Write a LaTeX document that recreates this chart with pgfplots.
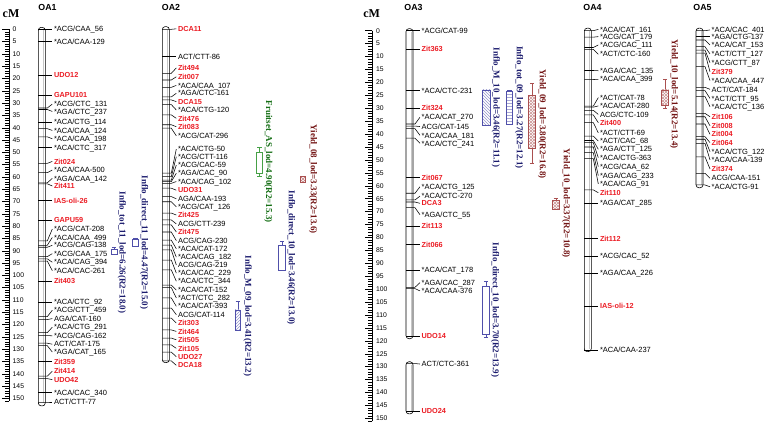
\documentclass[border=0pt]{standalone}
\usepackage{pgfplots}
\pgfplotsset{compat=1.18}
\usetikzlibrary{patterns}
\usepackage{fontspec}
\setmainfont{Liberation Sans}
\newfontfamily\serifb{Liberation Serif}
\definecolor{mred}{RGB}{235,28,36}
\definecolor{navyt}{RGB}{28,28,110}
\definecolor{navyb}{RGB}{80,80,170}
\definecolor{greent}{RGB}{20,110,20}
\definecolor{greenb}{RGB}{70,160,70}
\definecolor{redt}{RGB}{115,20,20}
\definecolor{redb}{RGB}{170,80,80}
\tikzset{
 labk/.style={anchor=west, inner sep=0pt, text height=5.3pt, text depth=0pt, font=\fontsize{7.5}{8}\selectfont, text=black},
 labr/.style={anchor=west, inner sep=0pt, text height=5.3pt, text depth=0pt, font=\fontsize{7.3}{8}\selectfont\bfseries, text=mred},
 qt/.style={rotate=-90, inner sep=0pt, text height=6.2pt, text depth=1.8pt, font=\fontsize{9}{10}\selectfont\serifb\bfseries},
 ttl/.style={inner sep=0pt, text height=6.2pt, text depth=0pt, font=\fontsize{8.8}{9}\selectfont\bfseries},
 cmt/.style={inner sep=0pt, text height=8pt, text depth=0pt, font=\fontsize{12}{12}\selectfont\serifb\bfseries},
 mkl/.style={black, line width=0.55pt},
 pNE/.style={postaction={pattern=north east lines, pattern color=#1}},
 pNW/.style={postaction={pattern=north west lines, pattern color=#1}},
 pHL/.style={postaction={pattern=horizontal lines, pattern color=#1}},
 pX/.style={postaction={pattern=north east lines, pattern color=#1}, postaction={pattern=north west lines, pattern color=#1}},
}
\pgfplotsset{
 panel/.style={scale only axis, width=384pt, height=428pt, y dir=reverse, hide axis, clip=false, no markers},
 scl/.style={scale only axis, width=9pt, height=428pt, xmin=0, xmax=9, y dir=reverse,
   axis x line=none, axis y line*=right, y axis line style={draw=none},
   ytick={0,5,...,150}, minor ytick={0,1,...,151}, tick align=inside,
   major tick length=7pt, minor tick length=4pt, tick style={black, line width=0.4pt},
   yticklabel style={font=\fontsize{6.8}{7}\selectfont, inner sep=0pt, xshift=3.5pt},
   /pgf/number format/assume math mode=true, clip=false, no markers},
}
% marker: pos, label y, colour (k/r), text ; uses \cL (chromosome left edge)
\newcommand\mk[4]{%
 \pgfmathsetmacro\xa{\cL+9}\pgfmathsetmacro\xb{\cL+14}\pgfmathsetmacro\xc{\cL+15.5}%
 \edef\tmp{\noexpand\addplot[mkl] coordinates {(\cL,#1) (\xa,#1) (\xb,#2)};%
  \noexpand\node[lab#3] at (axis cs:\xc,#2) {\unexpanded{#4}};}\tmp}
% chromosome: left, top, bottom
\newcommand\chrom[3]{%
 \pgfmathsetmacro\cR{#1+7}\pgfmathsetmacro\cG{#1+5.2}%
 \pgfmathsetmacro\cT{#2+1.2}\pgfmathsetmacro\cB{#3-1.2}%
 \edef\tmp{\noexpand\addplot[draw=black, fill=white, line width=0.6pt, rounded corners=3pt] coordinates {(#1,#2) (\cR,#2) (\cR,#3) (#1,#3)} --cycle;%
 \noexpand\addplot[gray!45, line width=0.7pt] coordinates {(\cG,\cT) (\cG,\cB)};}\tmp}
% QTL box: xl, xr, top, bottom, colour, pattern style
\newcommand\qbox[6]{\addplot[draw=#5, fill=white, line width=0.6pt, #6] coordinates {(#1,#3) (#2,#3) (#2,#4) (#1,#4)} --cycle;}
% whisker: xl, xr, end, attach, colour
\newcommand\qwh[5]{%
 \pgfmathsetmacro\qc{(#1+#2)/2}\pgfmathsetmacro\qa{\qc-2.2}\pgfmathsetmacro\qb{\qc+2.2}%
 \edef\tmp{\noexpand\addplot[draw=#5, line width=0.6pt] coordinates {(\qa,#3) (\qb,#3)};%
 \noexpand\addplot[draw=#5, line width=0.6pt] coordinates {(\qc,#3) (\qc,#4)};}\tmp}
\begin{document}
\begin{tikzpicture}
% ---------------- left scale
\begin{axis}[scl, at={(0pt,0pt)}, ymin=-11.91, ymax=162.07]
\addplot[black, line width=0.5pt] coordinates {(9,0) (9,151)};
\end{axis}
% ---------------- left panel
\begin{axis}[panel, at={(0pt,0pt)}, xmin=0, xmax=384, ymin=-11.91, ymax=162.07]
\node[cmt] at (axis cs:11,-6.5) {cM};
\node[ttl] at (axis cs:47.5,-9.07) {OA1};
\node[ttl] at (axis cs:171,-9.07) {OA2};
\chrom{38.3}{-0.8}{153.1}
\def\cL{38.3}
\mk{0}{0}{k}{*ACG/CAA\_56}
\mk{4.9}{4.9}{k}{*ACA/CAA-129}
\mk{18.7}{18.7}{r}{UDO12}
\mk{26.8}{26.8}{r}{GAPU101}
\mk{32.0}{30.4}{k}{*ACG/CTC\_131}
\mk{32.6}{33.4}{k}{*AGA/CTC\_237}
\mk{37.7}{37.7}{k}{*ACA/CTG\_114}
\mk{40.4}{41.1}{k}{*ACA/CAA\_124}
\mk{43.7}{44.5}{k}{*ACA/CAA\_198}
\mk{48.1}{48.1}{k}{*ACA/CTC\_317}
\mk{54.5}{53.7}{r}{Zit024}
\mk{58.3}{57.2}{k}{*ACA/CAA-500}
\mk{62.4}{60.6}{k}{*AGA/CAA\_142}
\mk{62.8}{63.7}{r}{Zit411}
\mk{69.7}{69.7}{r}{IAS-oli-26}
\mk{77.5}{77.5}{r}{GAPU59}
\mk{86.0}{81.2}{k}{*ACG/CAT-208}
\mk{87.8}{84.6}{k}{*ACA/CAA\_499}
\mk{88.6}{87.8}{k}{*ACG/CAG-138}
\mk{92.4}{91.2}{k}{*ACG/CAA\_175}
\mk{93.3}{94.7}{k}{*ACA/CAG\_394}
\mk{94.2}{98.1}{k}{*ACA/CAC-261}
\mk{102.3}{102.3}{r}{Zit403}
\mk{110.9}{110.9}{k}{*ACA/CTC\_92}
\mk{116.8}{114.2}{k}{*ACG/CTT\_459}
\mk{118.0}{117.6}{k}{AGA/CAT-160}
\mk{123.3}{121.1}{k}{*ACA/CTG\_291}
\mk{124.5}{124.6}{k}{*ACG/CAG-162}
\mk{127.6}{128.0}{k}{ACT/CAT-175}
\mk{128.6}{131.2}{k}{*AGA/CAT\_165}
\mk{135.1}{135.1}{r}{Zit359}
\mk{141.0}{139.0}{r}{Zit414}
\mk{142.0}{142.4}{r}{UDO42}
\mk{147.7}{147.7}{k}{*ACA/CAC\_340}
\mk{151.5}{151.5}{k}{ACT/CTT-77}
\chrom{162.3}{-1.1}{135.5}
\def\cL{162.3}
\mk{0}{-0.2}{r}{DCA11}
\mk{11.1}{11.1}{k}{ACT/CTT-86}
\mk{17.9}{15.7}{r}{Zit494}
\mk{20.6}{19.3}{r}{Zit007}
\mk{23.6}{22.8}{k}{*ACA/CAA\_107}
\mk{27.5}{26.0}{k}{*AGA/CTC-161}
\mk{28.7}{29.4}{r}{DCA15}
\mk{30.6}{32.8}{k}{*ACA/CTG-120}
\mk{34.8}{36.2}{r}{Zit476}
\mk{38.8}{39.6}{r}{Zit083}
\mk{40.2}{43.3}{k}{*ACG/CAT-296}
\mk{58.5}{48.7}{k}{*ACA/CTG-50}
\mk{59.9}{51.8}{k}{*ACG/CTT-116}
\mk{61.3}{55.2}{k}{*ACG/CAC-59}
\mk{61.9}{58.5}{k}{*AGA/CAC\_90}
\mk{62.6}{61.9}{k}{*ACA/CAG\_102}
\mk{64.6}{65.4}{r}{UDO31}
\mk{68.0}{68.9}{k}{AGA/CAA-193}
\mk{70.1}{72.2}{k}{*ACG/CAT\_126}
\mk{74.7}{75.5}{r}{Zit425}
\mk{77.5}{79.1}{k}{ACG/CTT-239}
\mk{79.5}{82.4}{r}{Zit475}
\mk{82.4}{85.9}{k}{ACG/CAG-230}
\mk{85.7}{89.2}{k}{*ACA/CAT-172}
\mk{87.7}{92.6}{k}{*ACA/CAG\_182}
\mk{89.7}{95.8}{k}{ACG/CAG-219}
\mk{93.8}{99.1}{k}{*ACA/CAC\_229}
\mk{97.8}{102.4}{k}{*ACA/CTC\_344}
\mk{104.0}{106.0}{k}{*ACA/CAT-152}
\mk{105.0}{109.2}{k}{*ACT/CTC\_282}
\mk{109.2}{112.6}{k}{*ACA/CAT-393}
\mk{113.3}{116.0}{k}{ACG/CAT-114}
\mk{117.4}{119.4}{r}{Zit303}
\mk{122.2}{122.8}{r}{Zit464}
\mk{125.5}{126.2}{r}{Zit505}
\mk{128.3}{129.7}{r}{Zit105}
\mk{131.2}{133.1}{r}{UDO27}
\mk{134.8}{136.6}{r}{DCA18}
% QTLs left
\qwh{111}{117}{88.6}{89.3}{navyb}
\qbox{111}{117}{89.3}{91.6}{navyb}{}
\node[qt, text=navyt] at (axis cs:121.7,90.7) {Inflo\_tot\_11\_lod=6.26(R2=18.0)};
\qwh{132.3}{138.3}{84.8}{85.5}{navyb}
\qbox{132.3}{138.3}{85.5}{88.4}{navyb}{}
\node[qt, text=navyt] at (axis cs:144,86.7) {Inflo\_direct\_11\_lod=4.47(R2=15.0)};
\qwh{256.7}{262.3}{48.1}{49.8}{greenb}
\qwh{256.7}{262.3}{59.9}{58.5}{greenb}
\qbox{256.7}{262.3}{49.8}{58.5}{greenb}{}
\node[qt, text=greent] at (axis cs:268.3,53.8) {Fruitset\_AS\_lod=4.90(R2=15.3)};
\qbox{300}{305.5}{59.9}{62.2}{redb}{pX=redb!70}
\node[qt, text=redt] at (axis cs:313,60.9) {Yield\_08\_lod=3.33(R2=13.6)};
\qwh{278.3}{285.7}{86.1}{87.7}{navyb}
\qbox{278.3}{285.7}{87.7}{97.9}{navyb}{}
\node[qt, text=navyt] at (axis cs:291,92.8) {Inflo\_direct\_10\_lod=3.46(R2=13.0)};
\qwh{235}{240.7}{110.7}{114.1}{navyb}
\qbox{235}{240.7}{114.1}{122.2}{navyb}{pNE=navyb!60}
\node[qt, text=navyt] at (axis cs:247.5,116.5) {Inflo\_M\_09\_lod=3.41(R2=13.2)};
\end{axis}
% ---------------- right scale
\begin{axis}[scl, at={(363.3pt,0pt)}, ymin=-11.88, ymax=153.75]
\addplot[black, line width=0.5pt] coordinates {(9,0) (9,151)};
\end{axis}
% ---------------- right panel
\begin{axis}[panel, at={(384pt,0pt)}, xmin=384, xmax=768, ymin=-11.88, ymax=153.75]
\node[cmt] at (axis cs:371.7,-6.6) {cM};
\node[ttl] at (axis cs:413.5,-9.17) {OA3};
\node[ttl] at (axis cs:592.5,-9.17) {OA4};
\node[ttl] at (axis cs:702.5,-9.17) {OA5};
\chrom{406}{-0.8}{119.2}
\chrom{406}{128.1}{148.3}
\def\cL{406}
\mk{0}{0}{k}{*ACG/CAT-99}
\mk{7.2}{7.2}{r}{Zit363}
\mk{23.2}{23.2}{k}{*ACA/CTC-231}
\mk{30.0}{30.0}{r}{Zit324}
\mk{36.1}{33.5}{k}{*ACA/CAT\_270}
\mk{36.9}{37.1}{k}{ACG/CAT-145}
\mk{37.9}{40.5}{k}{*ACA/CAA\_181}
\mk{41.6}{43.6}{k}{*ACA/CTC\_241}
\mk{56.9}{56.9}{r}{Zit067}
\mk{62.9}{60.4}{k}{*ACA/CTG\_125}
\mk{65.5}{64.0}{k}{*ACA/CTC-270}
\mk{66.3}{66.8}{r}{DCA3}
\mk{68.5}{71.2}{k}{*AGA/CTC\_55}
\mk{75.5}{75.5}{r}{Zit113}
\mk{82.7}{82.7}{r}{Zit066}
\mk{92.6}{92.6}{k}{*ACA/CAT\_178}
\mk{99.3}{97.5}{k}{*AGA/CAC\_287}
\mk{99.8}{100.7}{k}{*ACA/CAA-376}
\mk{118.2}{118.2}{r}{UDO14}
\mk{128.8}{129.0}{k}{ACT/CTC-361}
\mk{147.3}{147.3}{r}{UDO24}
\chrom{584.3}{-1.0}{124.2}
\def\cL{584.3}
\mk{0}{-0.5}{k}{*ACA/CAT\_161}
\mk{2.5}{2.3}{k}{*ACG/CAT\_179}
\mk{6.5}{5.5}{k}{*ACG/CAC\_111}
\mk{7.2}{9.1}{k}{*ACT/CTC-160}
\mk{15.4}{15.5}{k}{*AGA/CAC\_135}
\mk{18.9}{18.8}{k}{*ACA/CAA\_399}
\mk{29.2}{25.9}{k}{*ACT/CAT-78}
\mk{29.6}{29.1}{k}{*ACA/CAT-280}
\mk{30.8}{32.4}{k}{ACG/CTC-109}
\mk{32.6}{35.6}{r}{Zit400}
\mk{35.6}{39.5}{k}{*ACT/CTT-69}
\mk{40.8}{42.7}{k}{*ACT/CAC\_68}
\mk{42.5}{45.9}{k}{*AGA/CTT\_125}
\mk{43.3}{49.1}{k}{*ACA/CTG-363}
\mk{45.0}{52.6}{k}{*ACG/CAA\_62}
\mk{47.2}{56.1}{k}{*AGA/CAG\_233}
\mk{49.5}{59.3}{k}{*ACA/CAG\_91}
\mk{61.6}{62.7}{r}{Zit110}
\mk{66.6}{66.6}{k}{*AGA/CAT\_285}
\mk{80.5}{80.5}{r}{Zit112}
\mk{87.2}{87.2}{k}{*ACG/CAC\_52}
\mk{93.7}{93.7}{k}{*AGA/CAA\_226}
\mk{106.5}{106.5}{r}{IAS-oli-12}
\mk{123.6}{123.6}{k}{*ACA/CAA-237}
\chrom{696}{-1.0}{60.8}
\def\cL{696}
\mk{0}{-0.3}{k}{*ACA/CAC\_401}
\mk{2.3}{2.3}{k}{*AGA/CTG-137}
\mk{3.6}{5.5}{k}{*ACA/CAT\_153}
\mk{6.2}{9.0}{k}{*ACT/CTT\_127}
\mk{7.5}{12.4}{k}{*ACG/CTT\_87}
\mk{8.7}{15.9}{r}{Zit379}
\mk{13.9}{19.3}{k}{*ACA/CAA\_447}
\mk{21.9}{22.7}{k}{ACT/CAT-184}
\mk{23.2}{26.2}{k}{*ACT/CTT\_95}
\mk{25.5}{29.4}{k}{*ACA/CTC\_136}
\mk{32.0}{33.3}{r}{Zit106}
\mk{33.3}{36.8}{r}{Zit008}
\mk{36.1}{40.1}{r}{Zit004}
\mk{41.0}{43.3}{r}{Zit064}
\mk{42.0}{46.8}{k}{*ACA/CTG\_122}
\mk{43.6}{50.0}{k}{*ACA/CAA-139}
\mk{48.8}{53.5}{r}{Zit374}
\mk{55.2}{57.1}{k}{ACG/CAA-151}
\mk{59.7}{60.4}{k}{*ACA/CTG-91}
% QTLs right
\qbox{482.7}{490.7}{22.9}{36.5}{navyb}{pNW=navyb!60}
\node[qt, text=navyt] at (axis cs:495.8,29.7) {Inflo\_M\_10\_lod=3.46(R2=11.1)};
\qwh{506}{512.7}{23.0}{23.6}{navyb}
\qbox{506}{512.7}{23.6}{36.2}{navyb}{pHL=navyb!50}
\node[qt, text=navyt] at (axis cs:519,29.7) {Inflo\_tot\_09\_lod=3.27(R2=12.1)};
\qwh{528.7}{535.3}{20.4}{24.9}{redb}
\qwh{528.7}{535.3}{51.3}{45.5}{redb}
\qbox{528.7}{535.3}{24.9}{45.5}{redb}{pX=redb!60}
\node[qt, text=redt] at (axis cs:542,36.2) {Yield\_09\_lod=3.80(R2=16.8)};
\qwh{552.3}{559.3}{64.9}{65.8}{redb}
\qbox{552.3}{559.3}{65.8}{69.0}{redb}{pX=redb!60}
\node[qt, text=redt] at (axis cs:566,66.8) {Yield\_10\_lod=3.37(R2=10.8)};
\qwh{661.7}{668.7}{18.7}{22.9}{redb}
\qwh{661.7}{668.7}{30.0}{29.0}{redb}
\qbox{661.7}{668.7}{22.9}{29.0}{redb}{pX=redb!60}
\node[qt, text=redt] at (axis cs:674,24.6) {Yield\_10\_lod=5.14(R2=13.4)};
\qwh{482.7}{489.3}{96.9}{98.8}{navyb}
\qwh{482.7}{489.3}{118.7}{117.4}{navyb}
\qbox{482.7}{489.3}{98.8}{117.4}{navyb}{}
\node[qt, text=navyt] at (axis cs:495,108.1) {Inflo\_direct\_10\_lod=3.70(R2=13.9)};
\end{axis}
\pgfresetboundingbox
\path[use as bounding box] (0pt,0pt) rectangle (768pt,428pt);
\end{tikzpicture}
\end{document}
